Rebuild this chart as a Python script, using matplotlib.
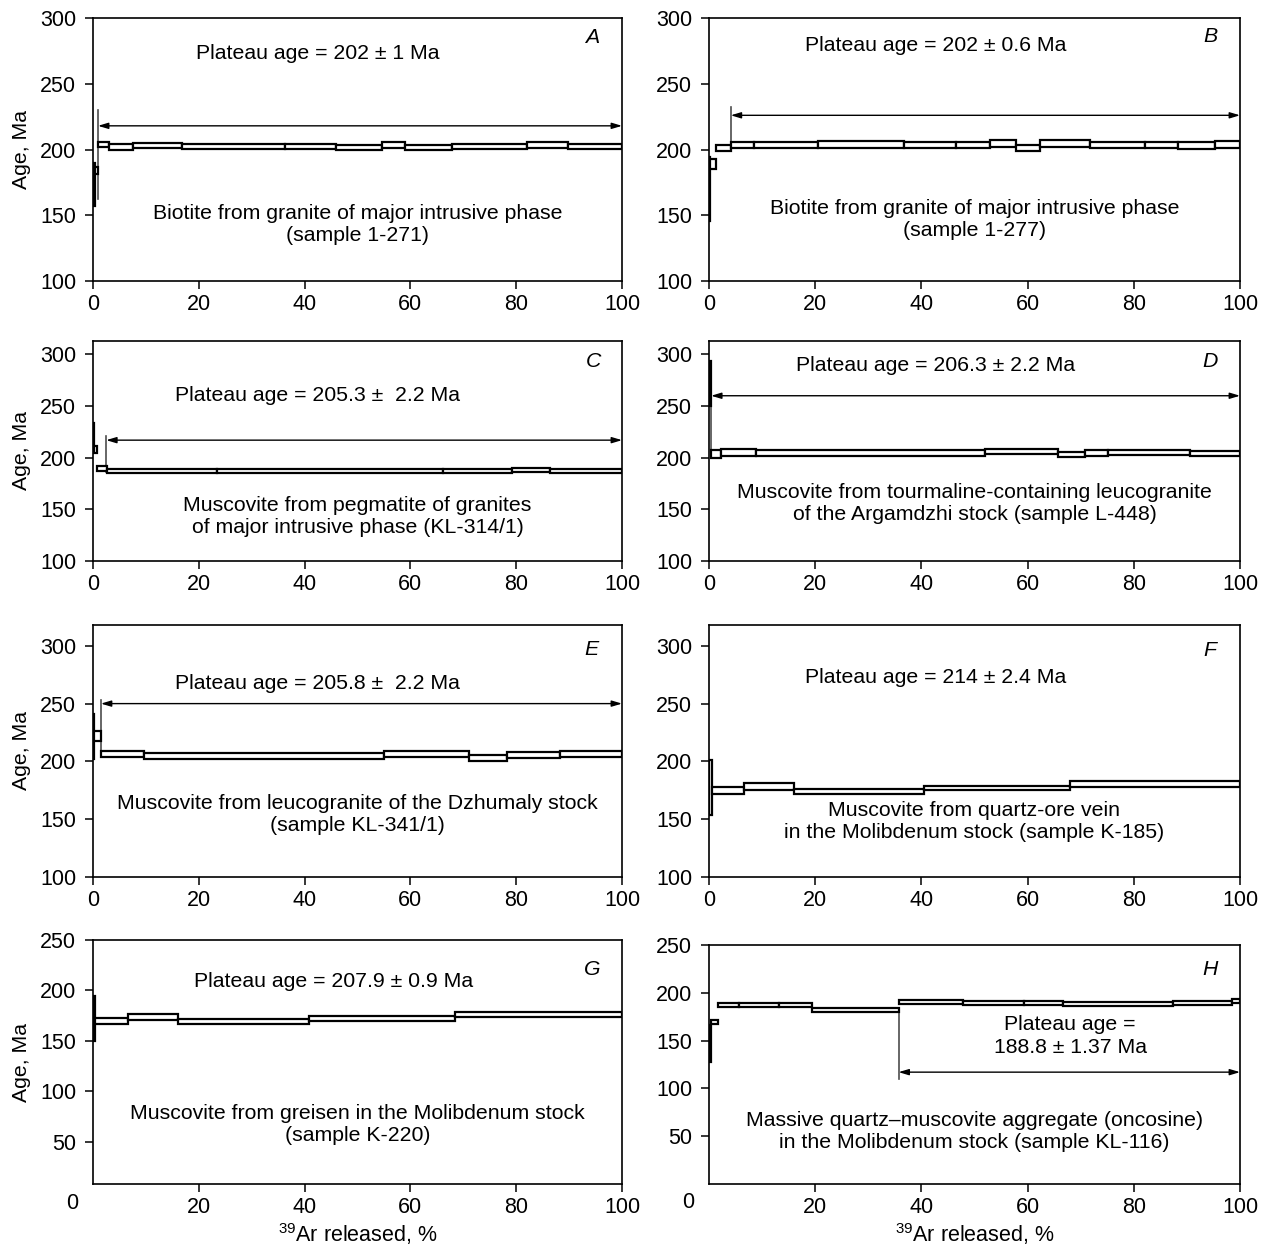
import numpy as np
import matplotlib
matplotlib.use('Agg')
import matplotlib.pyplot as plt

plt.rcParams['font.family'] = ['Liberation Sans', 'DejaVu Sans']
plt.rcParams['mathtext.fontset'] = 'custom'
plt.rcParams['mathtext.rm'] = 'Liberation Sans'
plt.rcParams['font.size'] = 15

# --- step spectra: step edges (% 39Ar released), apparent age and half-width of each step (Ma)
a_edges = [0, 0.3, 1.0, 3.1, 7.6, 16.8, 36.3, 45.9, 54.6, 59.0, 67.9, 82.0, 89.8, 100]
a_age = [173.5, 184, 204, 202, 203, 202.5, 202.5, 201.5, 203.5, 201.5, 202.5, 203.5, 202.5]
a_err = [16.5, 3, 2, 2, 2, 2, 2, 2, 2, 2, 2, 2, 2]

b_edges = [0, 0.2, 1.3, 4.1, 8.5, 20.5, 36.7, 46.5, 52.9, 57.8, 62.3, 71.8, 82.1, 88.3, 95.3, 100]
b_age = [170, 189, 201.4, 203.5, 203.5, 204, 203.5, 203.5, 204.5, 201, 204.5, 203.5, 203.5, 203, 204]
b_err = [24, 4, 2.4, 2.5, 2.5, 2.5, 2.5, 2.5, 2.5, 2.5, 2.5, 2.5, 2.5, 2.5, 2.5]

c_edges = [0, 0.15, 0.7, 2.6, 23.4, 66.2, 79.3, 86.3, 100]
c_age = [222, 208, 189.2, 187, 186.8, 187.2, 188.2, 187.2]
c_err = [12, 3, 2.5, 2, 2, 2.1, 2.1, 2]

d_edges = [0, 0.3, 2.2, 8.9, 52.0, 65.7, 70.8, 75.1, 90.6, 100]
d_age = [272, 203.9, 205.2, 204.5, 206, 203, 204.5, 205, 204]
d_err = [22, 3.9, 3.2, 2.5, 2.5, 2.5, 2.5, 2.5, 2.5]

e_edges = [0, 0.15, 1.5, 9.6, 55, 71, 78.2, 88.3, 100]
e_age = [221.5, 222, 206.2, 204.9, 206.2, 203.2, 205.4, 206]
e_err = [19.5, 4, 2.5, 2.4, 2.6, 2.5, 2.6, 2.6]

f_edges = [0, 0.5, 6.6, 16, 40.5, 68, 100]
f_age = [177.5, 174.7, 178.5, 173.8, 177.2, 180.5]
f_err = [23.5, 2.9, 3.2, 2.2, 1.9, 2.5]

g_edges = [0, 0.3, 6.7, 16.1, 40.8, 68.4, 100]
g_age = [172, 170, 174, 169.5, 172, 176]
g_err = [22, 3, 3, 2.5, 2.5, 2.5]

h_edges = [0, 0.4, 1.75, 5.7, 13.1, 19.4, 35.7, 47.9, 59.3, 66.7, 87.3, 98.5, 100]
h_age = [147, 169.2, 187.5, 187.5, 187.5, 182, 190.3, 189.7, 189.5, 188.5, 189.2, 191]
h_err = [19, 2.2, 2.1, 2.1, 2.1, 1.8, 2.1, 2, 1.8, 2, 2, 2]

# plateau: start (%), arrow level (Ma), start marker range (Ma)
a_plateau = (0.95, 218, 162, 230)
b_plateau = (4.1, 226, 200, 232)
c_plateau = (2.5, 217, 186, 221)
d_plateau = (0.4, 260, 205, 260)
e_plateau = (1.5, 250, 203.7, 253)
h_plateau = (35.7, 117, 110, 182)

plateau_text = ['Plateau age = 202 ± 1 Ma', 'Plateau age = 202 ± 0.6 Ma',
                'Plateau age = 205.3 ±  2.2 Ma', 'Plateau age = 206.3 ± 2.2 Ma',
                'Plateau age = 205.8 ±  2.2 Ma', 'Plateau age = 214 ± 2.4 Ma',
                'Plateau age = 207.9 ± 0.9 Ma', 'Plateau age =\n188.8 ± 1.37 Ma']
sample_text = ['Biotite from granite of major intrusive phase\n(sample 1-271)',
               'Biotite from granite of major intrusive phase\n(sample 1-277)',
               'Muscovite from pegmatite of granites\nof major intrusive phase (KL-314/1)',
               'Muscovite from tourmaline-containing leucogranite\nof the Argamdzhi stock (sample L-448)',
               'Muscovite from leucogranite of the Dzhumaly stock\n(sample KL-341/1)',
               'Muscovite from quartz-ore vein\nin the Molibdenum stock (sample K-185)',
               'Muscovite from greisen in the Molibdenum stock\n(sample K-220)',
               'Massive quartz\u2013muscovite aggregate (oncosine)\nin the Molibdenum stock (sample KL-116)']
letters = ['A', 'B', 'C', 'D', 'E', 'F', 'G', 'H']

W, H = 1267, 1247
fig = plt.figure(figsize=(W / 100, H / 100), dpi=100)


def add_axes_px(left, top, right, bottom):
    return fig.add_axes([left / W, 1 - bottom / H, (right - left) / W, (bottom - top) / H])


def draw_steps(ax, edges, age, err):
    edges = np.asarray(edges, dtype=float)
    age = np.asarray(age, dtype=float)
    err = np.asarray(err, dtype=float)
    ax.bar(edges[:-1], 2 * err, width=np.diff(edges), bottom=age - err, align='edge',
           facecolor='white', edgecolor='black', linewidth=1.6, zorder=3)


def draw_plateau(ax, plateau):
    start, level, lo, hi = plateau
    ax.plot([start, start], [lo, hi], color='0.3', lw=1.2, zorder=2)
    ax.annotate('', xy=(100, level), xytext=(start, level),
                arrowprops=dict(arrowstyle='<|-|>,head_length=0.5,head_width=0.15',
                                mutation_scale=12, lw=1, color='black',
                                shrinkA=0, shrinkB=0), zorder=4)


def style(ax, ylim, yticks, xticks):
    ax.set_xlim(0, 100)
    ax.set_ylim(*ylim)
    ax.set_yticks(yticks)
    ax.set_xticks(xticks)
    ax.tick_params(direction='out', length=6, width=1.1, labelsize=15.5)
    ax.tick_params(axis='y', pad=6)
    ax.tick_params(axis='x', pad=3.5)
    for s in ax.spines.values():
        s.set_linewidth(1.2)


cols = [(93, 622), (709, 1240)]
rows = [(18, 281), (341, 561), (625, 877), (940, 1184)]

panels = [
    (a_edges, a_age, a_err, a_plateau),
    (b_edges, b_age, b_err, b_plateau),
    (c_edges, c_age, c_err, c_plateau),
    (d_edges, d_age, d_err, d_plateau),
    (e_edges, e_age, e_err, e_plateau),
    (f_edges, f_age, f_err, None),
    (g_edges, g_age, g_err, None),
    (h_edges, h_age, h_err, h_plateau),
]
ylims = [(100, 300), (100, 300), (100, 313), (100, 313),
         (100, 318), (100, 318), (8, 250), (0, 250)]
# text anchor positions in data units: plateau label, letter, sample description
plateau_xy = [(42.5, 273), (42.6, 279), (42.5, 260), (42.7, 289),
              (42.5, 267), (42.6, 273), (45.5, 209), (68, 155)]
letter_xy = [(94.3, 285.5), (94.4, 286), (94.7, 293), (94.4, 293),
             (94.3, 297), (94.4, 296), (94.3, 221), (94.4, 224)]
sample_xy = [(50, 143), (50, 147), (50, 143), (50, 156),
             (50, 154), (50, 148), (50, 67), (50, 55)]

for i, (edges, age, err, plateau) in enumerate(panels):
    r, c = divmod(i, 2)
    left, right = cols[c]
    top, bottom = rows[r]
    if i == 7:
        top = 945
    ax = add_axes_px(left, top, right, bottom)
    if r < 3:
        style(ax, ylims[i], [100, 150, 200, 250, 300], [0, 20, 40, 60, 80, 100])
    else:
        style(ax, ylims[i], [50, 100, 150, 200, 250], [20, 40, 60, 80, 100])
        ax.text(-0.04, -0.078, '0', transform=ax.transAxes, ha='center', va='center', fontsize=15.5)
        ax.set_xlabel(r'$^{39}$Ar released, %', fontsize=15.5, va='center')
        ax.xaxis.set_label_coords(0.5, -(1234 - bottom) / (bottom - top))
    draw_steps(ax, edges, age, err)
    if plateau is not None:
        draw_plateau(ax, plateau)
    ax.text(*plateau_xy[i], plateau_text[i], ha='center', va='center', fontsize=15.3, linespacing=1.25)
    ax.text(*letter_xy[i], letters[i], ha='center', va='center', fontsize=15.3, style='italic')
    ax.text(*sample_xy[i], sample_text[i], ha='center', va='center', fontsize=15.3, linespacing=1.2)
    if c == 0:
        ax.set_ylabel('Age, Ma', fontsize=15.3)
        ax.yaxis.set_label_coords(-0.118, 0.5)

fig.savefig('out.png', dpi=100)
